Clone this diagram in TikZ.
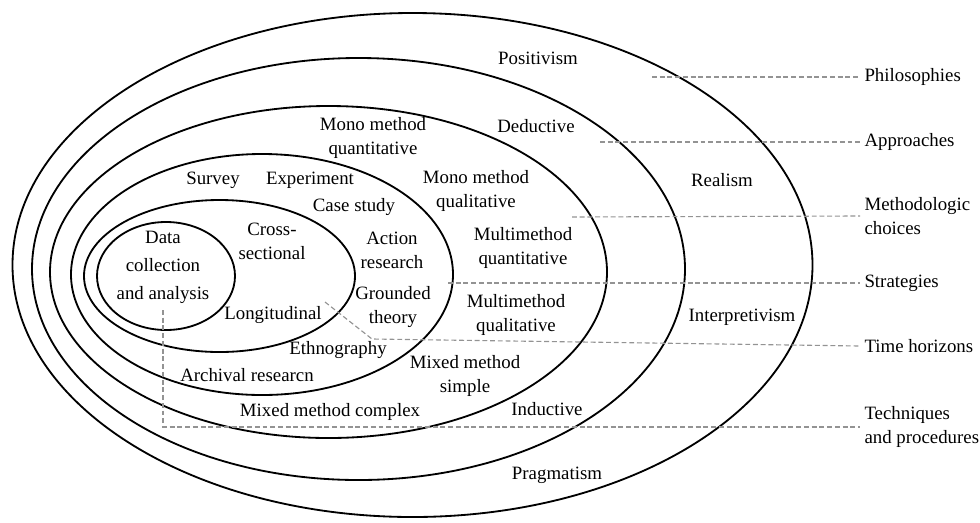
\documentclass[tikz,border=0pt]{standalone}
\usepackage{fontspec}
\setmainfont{Liberation Serif}
\newfontfamily\onionfont{Liberation Serif}
\usepackage{tikz}
\tikzset{
  ring/.style={line width=1.3pt},
  guide/.style={gray!85, line width=0.8pt, dash pattern=on 3.5pt off 2pt},
  lbl/.style={align=center, inner sep=0pt},
  layer/.style={anchor=west, align=left, inner xsep=3pt, inner ysep=0pt},
}

\begin{document}
\begin{tikzpicture}[x=0.025cm, y=-0.025cm, font=\onionfont\fontsize{13.4}{17}\selectfont]
	\useasboundingbox (0,0) rectangle (980,522);
	\draw[ring] (412.5,265) ellipse [x radius=400, y radius=252];
	\draw[ring] (358.5,269) ellipse [x radius=326.5, y radius=211];
	\draw[ring] (328.5,272) ellipse [x radius=278.5, y radius=166];
	\draw[ring] (262,274.5) ellipse [x radius=191, y radius=120.5];
	\draw[ring] (219.5,276) ellipse [x radius=135.5, y radius=76];
	\draw[ring] (166,276) ellipse [x radius=69, y radius=54];

	\node[lbl] (positivism) at (538,58) {Positivism};
	\node[lbl] (deductive) at (536,126) {Deductive};
	\node[lbl] (realism) at (722,180) {Realism};
	\node[lbl] (interpretivism) at (742,317) {Interpretivism};
	\node[lbl] (inductive) at (547,409) {Inductive};
	\node[lbl] (pragmatism) at (557,475) {Pragmatism};
	\node[lbl] (monoquan) at (373,138) {Mono method\\quantitative};
	\node[lbl] (monoqual) at (476,191) {Mono method\\qualitative};
	\node[lbl] (multiquan) at (523,248) {Multimethod\\quantitative};
	\node[lbl] (multiqual) at (516,315) {Multimethod\\qualitative};
	\node[lbl] (mixsimple) at (465,376) {Mixed method\\simple};
	\node[lbl] (mixcomplex) at (330,412) {Mixed method complex};
	\node[lbl] (survey) at (213,180) {Survey};
	\node[lbl] (experiment) at (310,180) {Experiment};
	\node[lbl] (casestudy) at (354,207) {Case study};
	\node[lbl] (action) at (392,250) {Action\\research};
	\node[lbl] (grounded) at (393,307) {Grounded\\theory};
	\node[lbl] (ethno) at (338,350) {Ethnography};
	\node[lbl] (archival) at (247,375) {Archival researcn};
	\node[lbl] (cross) at (272,241) {Cross-\\sectional};
	\node[lbl] (longit) at (273,315) {Longitudinal};
	\node[lbl, font=\onionfont\fontsize{13.4}{20}\selectfont] (data) at (163,267) {Data\\collection\\and analysis};

	\coordinate (p-phil) at (652,77);
	\coordinate (p-appr) at (600,142);
	\coordinate (p-meth) at (572,217);
	\coordinate (p-strat) at (448,283);
	\coordinate (p-time) at (325,302);
	\coordinate (q-time) at (372,339);
	\coordinate (p-tech) at (163,310);
	\coordinate (q-tech) at (163,427);
	\node[layer] (phil) at (860,77) {Philosophies};
	\node[layer] (appr) at (860,142) {Approaches};
	\node[layer] (meth) at (860,216) {Methodologic\\choices};
	\node[layer] (strat) at (860,283) {Strategies};
	\node[layer] (time) at (860,346) {Time horizons};
	\node[layer] (tech) at (860,427) {Techniques\\and procedures};

	\draw[guide] (p-phil) -- (phil.west);
	\draw[guide] (p-appr) -- (appr.west);
	\draw[guide] (p-meth) -- (meth.west);
	\draw[guide] (p-strat) -- (strat.west);
	\draw[guide] (p-time) -- (q-time) -- (time.west);
	\draw[guide] (p-tech) -- (q-tech) -- (tech.west);
\end{tikzpicture}
\end{document}
